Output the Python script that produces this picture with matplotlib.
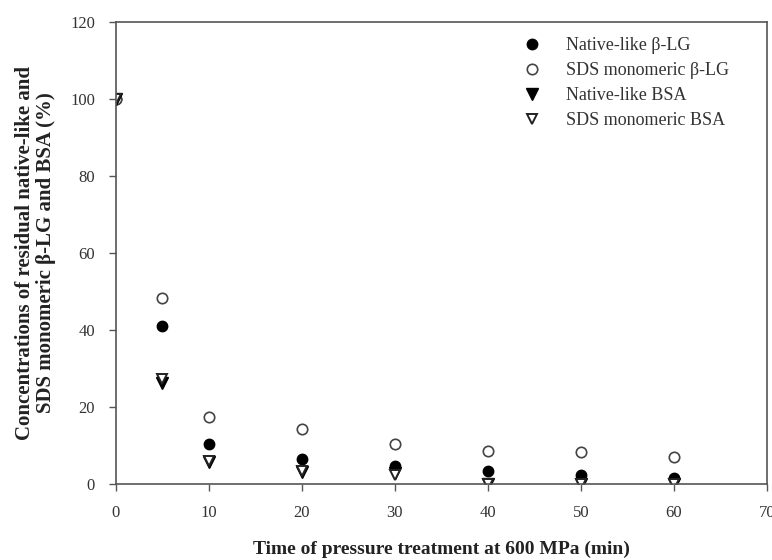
import numpy as np
import matplotlib.pyplot as plt

plt.rcParams['font.family'] = ['Liberation Serif', 'DejaVu Serif']

# time of pressure treatment (min)
time = [0, 5, 10, 20, 30, 40, 50, 60]
native_blg = [100, 41.0, 10.5, 6.6, 4.6, 3.3, 2.3, 1.5]
sds_blg = [100, 48.3, 17.5, 14.2, 10.5, 8.5, 8.3, 7.0]
native_bsa = [100, 26.2, 5.6, 3.0, 2.8, 0.0, 0.0, 0.0]
sds_bsa = [100, 27.3, 6.0, 3.4, 2.4, 0.0, 0.0, 0.0]

labels = ['Native-like \u03b2-LG', 'SDS monomeric \u03b2-LG',
          'Native-like BSA', 'SDS monomeric BSA']

fig = plt.figure(figsize=(7.72, 5.6), dpi=100)
ax = fig.add_axes([0.150, 0.1357, 0.8435, 0.825])

ax.plot(time, native_blg, 'o', color='black', ms=7.5, ls='none', label=labels[0])
ax.plot(time, sds_blg, 'o', mfc='white', mec='#444444', mew=1.2, ms=7.5, ls='none', label=labels[1])
ax.plot(time, native_bsa, 'v', color='black', ms=8, ls='none', label=labels[2])
ax.plot(time, sds_bsa, 'v', mfc='white', mec='#222222', mew=1.4, ms=7, ls='none', label=labels[3])

ax.set_xlim(0, 70)
ax.set_ylim(0, 120)
ax.set_xticks(np.arange(0, 71, 10))
ax.set_yticks(np.arange(0, 121, 20))
ax.tick_params(axis='both', direction='out', length=5, width=1, colors='#555555',
               labelcolor='#333333', labelsize=12)
ax.tick_params(axis='x', pad=10)
ax.tick_params(axis='y', pad=10)
for s in ax.spines.values():
    s.set_color('#555555')
    s.set_linewidth(1.2)

ax.set_xlabel('Time of pressure treatment at 600 MPa (min)', fontsize=14,
              fontweight='bold', color='#222222', labelpad=14)
ax.set_ylabel('Concentrations of residual native-like and\nSDS monomeric \u03b2-LG and BSA (%)',
              fontsize=15, fontweight='bold', color='#222222', labelpad=10,
              linespacing=1.1)

leg = ax.legend(loc='upper right', bbox_to_anchor=(0.962, 0.995), frameon=False,
                fontsize=13, handletextpad=0.9, labelspacing=0.45, borderpad=0.2)
for t in leg.get_texts():
    t.set_color('#333333')

fig.savefig('out.png', dpi=100)
